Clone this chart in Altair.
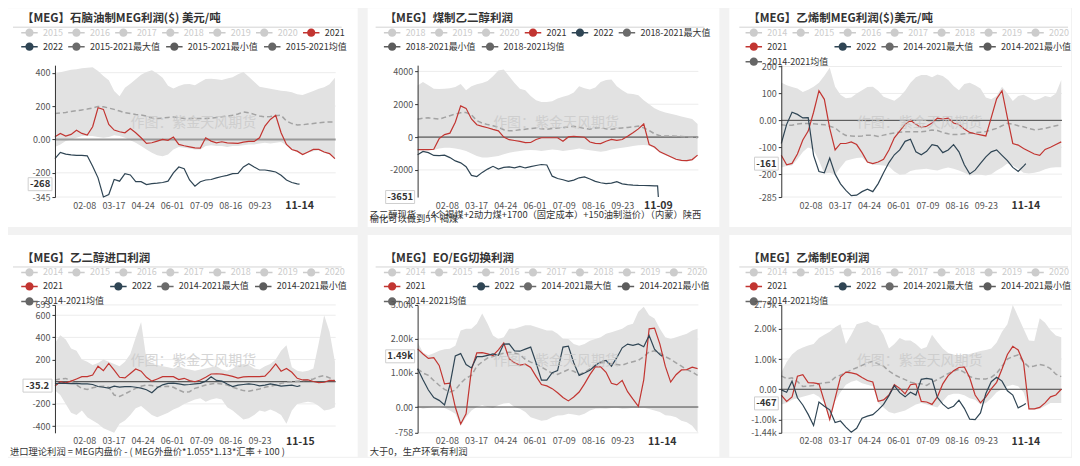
import altair as alt
import pandas as pd

FONT = "Noto Sans CJK SC"

# ---------------- shared categories ----------------
WEEK_DAYS = [0, 7, 14, 21, 28, 35, 42, 49, 56, 63, 70, 77, 84, 91, 98, 105, 112, 119, 126, 133,
             140, 147, 154, 161, 168, 175, 182, 189, 196, 203, 210, 217, 224, 231, 238, 245, 252,
             259, 266, 273, 280, 287, 294, 301, 308, 315, 322, 329, 336, 343, 350, 357, 364]
D22_STD = [0, 7, 14, 21, 28, 35, 42, 49, 56, 63, 70, 77, 84, 91, 98, 105, 112, 119, 126, 133,
           140, 147, 154, 161, 168, 175, 182, 189, 196, 203, 210, 217, 224, 231, 238, 245, 252,
           259, 266, 273, 280, 287, 294, 301, 308, 315, 318]
D22_P2 = [0, 7, 14, 21, 28, 35, 42, 49, 56, 63, 70, 77, 84, 91, 98, 105, 112, 119, 126, 133,
          140, 147, 154, 161, 168, 175, 182, 189, 196, 203, 210, 217, 224, 231, 238, 245, 252,
          259, 266, 273, 280, 287, 294, 301, 308, 312, 313]
D22_P4 = [0, 7, 14, 21, 28, 35, 42, 49, 56, 63, 70, 77, 84, 91, 98, 105, 112, 119, 126, 133,
          140, 147, 154, 161, 168, 175, 182, 189, 196, 203, 210, 217, 224, 231, 238, 245, 252,
          259, 266, 273, 280, 287, 294, 301, 308, 315, 319]
X_TICK_DAYS = [38, 76, 114, 152, 190, 228, 266]
X_TICK_LABELS = ["02-08", "03-17", "04-24", "06-01", "07-09", "08-16", "09-23"]
YEARS_OFF = ["2014", "2015", "2016", "2017", "2018", "2019", "2020"]

# ---------------- panel 1 ----------------
P1_TITLE = "【MEG】石脑油制MEG利润($) 美元/吨"
P1_LEG_A = ["2015", "2016", "2017", "2018", "2019", "2020", "2021"]
P1_LEG_B = ["2022", "2015-2021最大值", "2015-2021最小值", "2015-2021均值"]
P1_YTICKS = [400, 200, 0, -200, -345]
P1_YLABELS = ["400", "200", "0.00", "-200", "-345"]
P1_YDOMAIN = [-345, 445]
P1_MAX = [394, 402, 410, 418, 420, 426, 430, 432, 410, 380, 355, 290, 258, 310, 334, 360, 388, 404,
          414, 395, 370, 322, 305, 320, 330, 332, 324, 344, 362, 364, 360, 356, 365, 373, 390, 404,
          375, 345, 316, 310, 304, 298, 292, 288, 283, 270, 266, 278, 290, 303, 312, 330, 370]
P1_MIN = [-45, -30, -10, 0, 10, 20, 20, 20, 15, 10, 15, 25, 20, 10, -5, -20, -40, -60, -80, -95,
          -100, -90, -60, -45, -50, -55, -60, -60, -40, -35, -40, -40, -45, -40, -40, -35, -30, -30,
          -25, -20, -25, -20, -15, -35, -65, -75, -95, -80, -70, -65, -80, -90, -120]
P1_MEAN = [155, 158, 162, 167, 172, 177, 182, 188, 198, 196, 188, 180, 170, 160, 155, 150, 146, 140,
           128, 126, 128, 132, 134, 130, 126, 125, 125, 125, 125, 128, 132, 136, 140, 145, 152, 165,
           160, 150, 140, 135, 138, 142, 145, 110, 95, 87, 88, 92, 96, 100, 103, 105, 105]
P1_2021 = [16, 36, 20, 30, 55, 36, 26, 76, 190, 180, 90, 56, 46, 40, 66, 40, 10, -24, -20, -10, 0,
           -5, 14, -30, -38, -44, -50, -52, 10, -10, -20, -14, -20, -22, -24, -16, -12, -12, 10, 80,
           120, 145, 40, -30, -60, -70, -90, -75, -60, -60, -75, -85, -115]
P1_2022 = [-115, -78, -88, -92, -95, -95, -98, -160, -230, -345, -330, -240, -250, -205, -213, -253,
           -253, -270, -265, -262, -258, -250, -200, -165, -175, -243, -280, -253, -243, -240, -230,
           -222, -215, -205, -203, -165, -145, -165, -183, -183, -188, -195, -215, -243, -258, -266,
           -268]
P1_NOW = "11-14"
P1_NOW_DAY = 318
P1_CUR = "-268"

# ---------------- panel 2 ----------------
P2_TITLE = "【MEG】煤制乙二醇利润"
P2_LEG_A = ["2018", "2019", "2020", "2021", "2022", "2018-2021最大值"]
P2_LEG_B = ["2018-2021最小值", "2018-2021均值"]
P2_YTICKS = [4000, 2000, 0, -2000]
P2_YLABELS = ["4000", "2000", "0", "-2000"]
P2_YDOMAIN = [-3651, 4380]
P2_MAX = [3140, 3350, 3150, 2950, 2930, 2950, 2980, 3050, 3240, 2850, 3100, 3220, 3300, 3420, 3700,
          4050, 4120, 3700, 3300, 2950, 2850, 2500, 2250, 2130, 2130, 2180, 2350, 2450, 2550, 2720,
          3100, 2980, 2900, 3020, 3350, 3480, 3500, 3100, 2850, 2650, 2620, 2550, 2250, 2000, 1750,
          1600, 1500, 1420, 1340, 1250, 1170, 1100, 800]
P2_MIN = [-800, -800, -800, -780, -700, -650, -650, -700, -750, -850, -1000, -1150, -1250, -1250,
          -1200, -1150, -1050, -950, -900, -850, -800, -780, -800, -850, -800, -750, -780, -850,
          -800, -750, -700, -750, -800, -850, -900, -850, -750, -700, -650, -600, -550, -500, -480,
          -520, -700, -950, -1100, -1250, -1400, -1470, -1480, -1420, -1150]
P2_MEAN = [1090, 1150, 1170, 1130, 1090, 1200, 1300, 1400, 1480, 1500, 1350, 1000, 850, 760, 690,
           600, 450, 380, 400, 440, 480, 520, 560, 500, 480, 520, 560, 575, 620, 660, 600, 520, 480,
           560, 570, 500, 480, 520, 560, 590, 620, 670, 560, 400, 200, 80, 60, 60, 55, 40, 10, -10,
           -40]
P2_2021 = [-760, -760, -760, -740, -95, 150, 240, 900, 1900, 1750, 1100, 750, 650, 570, 470, 380, 0,
           -160, -210, -260, -340, -330, -150, -40, -40, -40, -40, -250, 10, 50, 20, -10, -300,
           -380, -400, -250, -145, -200, -150, 50, 265, 500, 800, -450, -600, -900, -1050, -1200,
           -1350, -1420, -1430, -1370, -1100]
P2_2022 = [-1070, -870, -950, -1120, -1130, -1100, -1250, -1450, -1570, -1800, -2330, -2400, -2150,
           -1950, -1780, -1950, -1850, -1820, -1870, -1780, -1880, -1800, -1730, -1670, -1700, -2380,
           -2520, -2600, -2700, -2620, -2480, -2430, -2550, -2700, -2780, -2830, -2800, -2720, -2850,
           -2890, -2920, -2940, -2950, -2960, -2970, -2970, -3651]
P2_NOW = "11-09"
P2_NOW_DAY = 313
P2_CUR = "-3651"
P2_NOTES = ["乙二醇现货 -（4个褐煤+2动力煤+1700（固定成本）+150油制溢价）（内蒙）陕西",
            "榆化可以做到5个褐煤"]

# ---------------- panel 3 ----------------
P3_TITLE = "【MEG】乙烯制MEG利润($)美元/吨"
P3_LEG_A = YEARS_OFF
P3_LEG_B = ["2021", "2022", "2014-2021最大值", "2014-2021最小值", "2014-2021均值"]
P3_YTICKS = [200, 100, 0, -100, -200, -285]
P3_YLABELS = ["200", "100", "0.00", "-100", "-200", "-285"]
P3_YDOMAIN = [-285, 205]
P3_MAX = [141, 130, 124, 118, 105, 114, 125, 140, 166, 195, 125, 95, 82, 85, 100, 112, 124, 125, 110,
          88, 80, 73, 88, 110, 140, 160, 168, 168, 160, 170, 165, 150, 128, 112, 135, 140, 130, 118,
          85, 78, 90, 125, 100, 72, 90, 95, 85, 75, 80, 90, 86, 100, 150]
P3_MIN = [-175, -170, -168, -145, -118, -100, -110, -150, -198, -195, -202, -175, -150, -145, -140,
          -138, -158, -165, -166, -168, -172, -190, -202, -200, -188, -184, -182, -180, -184, -186,
          -180, -175, -180, -186, -195, -205, -202, -202, -205, -200, -186, -175, -160, -168, -180,
          -195, -198, -195, -190, -182, -176, -174, -174]
P3_MEAN = [-16, -19, -18, -14, -11, -12, -13, -15, -16, -22, -28, -45, -56, -58, -60, -58, -55, -56,
           -60, -55, -50, -47, -44, -42, -42, -42, -42, -40, -36, -38, -45, -50, -53, -52, -50, -48,
           -46, -44, -42, -36, -30, -20, -11, -14, -20, -24, -30, -35, -33, -30, -25, -20, -16]
P3_2021 = [-130, -165, -160, -125, -73, -40, 30, 110, 78, -30, -110, -86, -86, -80, -90, -120, -155,
           -161, -155, -145, -110, -65, -40, -15, 0, -15, -27, -22, -10, 8, 5, 8, -10, -16, -32, -45,
           -50, -54, -58, 10, 80, 110, 10, -86, -92, -105, -115, -125, -130, -108, -100, -90, -80]
P3_2022 = [-86, -15, 30, 22, 9, 10, -130, -190, -195, -140, -200, -236, -260, -280, -278, -265, -256,
           -265, -235, -195, -157, -128, -110, -78, -70, -117, -128, -115, -90, -95, -120, -110, -90,
           -117, -165, -199, -185, -160, -136, -117, -110, -130, -150, -175, -190, -170, -161]
P3_NOW = "11-14"
P3_NOW_DAY = 318
P3_CUR = "-161"

# ---------------- panel 4 ----------------
P4_TITLE = "【MEG】乙二醇进口利润"
P4_LEG_A = YEARS_OFF
P4_LEG_B = ["2021", "2022", "2014-2021最大值", "2014-2021最小值", "2014-2021均值"]
P4_YTICKS = [693, 600, 400, 200, -200, -400]
P4_YLABELS = ["693", "600", "400", "200", "-200", "-400"]
P4_YDOMAIN = [-461, 693]
P4_MAX = [350, 420, 380, 300, 280, 200, 180, 150, 170, 200, 180, 160, 140, 180, 250, 400, 540, 200,
          160, 150, 140, 130, 120, 140, 120, 110, 100, 110, 120, 130, 140, 110, 100, 120, 150, 160,
          150, 120, 110, 140, 160, 200, 280, 330, 130, 100, 90, 100, 120, 350, 600, 450, 180]
P4_MIN = [-80, -120, -200, -280, -300, -260, -320, -350, -380, -420, -440, -460, -380, -350, -300,
          -240, -220, -260, -300, -320, -300, -280, -250, -230, -200, -180, -160, -150, -180, -160,
          -150, -160, -230, -260, -300, -340, -330, -300, -260, -270, -250, -270, -300, -380, -260,
          -200, -190, -180, -190, -220, -260, -250, -230]
P4_MEAN = [15, 25, 30, 10, -30, -60, -70, -55, -45, -40, -50, -120, -133, -110, -85, -60, -40, -30,
           -35, -45, -45, -40, -50, -75, -95, -90, -60, -45, -30, -20, -15, -20, -30, -50, -65, -80,
           -85, -75, -65, -50, -40, -30, -15, -5, 0, 5, 10, 15, 25, 45, 55, 35, 10]
P4_2021 = [-40, 0, -10, 5, 25, 46, 46, 60, 140, 100, 165, 105, 40, 35, 75, 115, 95, 40, 5, 25, 46,
           46, 46, 20, 31, 10, 0, 16, 40, 70, 72, 68, 60, 48, 33, 44, 46, 46, 46, 50, 100, 160, 95,
           120, 85, 31, 16, 16, 2, -8, -5, 12, 10]
P4_2022 = [-20, -12, -15, -18, -15, -20, -20, -25, -43, -50, -58, -40, -48, -45, -43, -50, -58, -72,
           -100, -55, -28, -15, -13, -20, -28, -25, -20, -15, 5, 45, 12, 5, -20, -43, -30, -25, -20,
           -25, -38, -30, -20, -28, -40, -35, -30, -43, -35.2]
P4_NOW = "11-15"
P4_NOW_DAY = 319
P4_CUR = "-35.2"
P4_NOTES = ["进口理论利润 = MEG内盘价 - ( MEG外盘价*1.055*1.13*汇率 + 100 )"]

# ---------------- panel 5 ----------------
P5_TITLE = "【MEG】EO/EG切换利润"
P5_LEG_A = YEARS_OFF
P5_LEG_B = ["2021", "2022", "2014-2021最大值", "2014-2021最小值", "2014-2021均值"]
P5_YTICKS = [3000, 2000, 1000, 0, -758]
P5_YLABELS = ["3.00k", "2.00k", "1.00k", "0.00", "-758"]
P5_YDOMAIN = [-758, 3000]
P5_MAX = [1900, 1600, 1520, 1580, 1650, 1700, 1710, 1800, 2250, 2300, 2300, 2450, 2750, 2450, 2100,
          2000, 2050, 2300, 2300, 2350, 2400, 2400, 2350, 2300, 2250, 2250, 2150, 2004, 2000, 1850,
          1800, 1850, 1950, 2000, 2050, 2150, 2200, 2250, 2300, 2400, 2450, 2800, 2950, 2700, 2600,
          2300, 2050, 2000, 2050, 2100, 2150, 2250, 2300]
P5_MIN = [0, -50, -20, 0, 0, -30, -100, -200, -550, -300, -100, 0, 50, 0, -30, 50, 100, 120, 0, -50,
          -150, -300, -350, -400, -380, -300, -250, -240, -200, -220, -250, -200, -100, -50, -40,
          -50, -30, -20, -50, -40, -20, -30, -20, -60, -100, -150, -240, -260, -300, -400, -450,
          -550, -750]
P5_MEAN = [1124, 1000, 930, 780, 640, 520, 440, 500, 700, 850, 929, 1200, 1330, 1440, 1480, 1540,
           1580, 1610, 1590, 1540, 1400, 1320, 1260, 1180, 1080, 990, 960, 1030, 1100, 1050, 960,
           1020, 1120, 1220, 1300, 1300, 1270, 1250, 1230, 1290, 1330, 1370, 1480, 1620, 1650, 1580,
           1480, 1400, 1300, 1200, 1100, 1030, 930]
P5_2021 = [1710, 1560, 1430, 1450, 1222, 680, 700, 0, -500, -200, 1100, 1590, 1600, 1560, 1515, 1680,
           1880, 1417, 1300, 1230, 1260, 1160, 900, 660, 620, 540, 420, 280, 180, 293, 440, 680, 950,
           1180, 1180, 1020, 700, 650, 782, 450, 230, 20, 800, 2297, 2320, 1850, 1200, 733, 950,
           1090, 1100, 1173, 1130]
P5_2022 = [1124, 800, 500, 280, 196, 60, 650, 1500, 1570, 1250, 1150, 1480, 1480, 1520, 1560, 1520,
           1850, 1857, 1650, 1640, 1700, 1760, 1300, 790, 790, 1010, 1070, 1760, 1790, 1300, 930, 1000,
           1080, 1220, 1330, 1368, 1200, 1450, 1740, 1850, 1810, 1855, 1770, 2100, 1700, 1540, 1490]
P5_NOW = "11-14"
P5_NOW_DAY = 318
P5_CUR = "1.49k"
P5_NOTES = ["大于0，生产环氧有利润"]

# ---------------- panel 6 ----------------
P6_TITLE = "【MEG】乙烯制EO利润"
P6_LEG_A = YEARS_OFF
P6_LEG_B = ["2021", "2022", "2014-2021最大值", "2014-2021最小值", "2014-2021均值"]
P6_YTICKS = [2790, 2000, 1000, 0, -1000, -1440]
P6_YLABELS = ["2.79k", "2.00k", "1.00k", "0.00", "-1.00k", "-1.44k"]
P6_YDOMAIN = [-1440, 2790]
P6_MAX = [552, 900, 1150, 1300, 1380, 1450, 1500, 1700, 1800, 1900, 2050, 2150, 1500, 1800, 2150,
          2200, 2250, 2140, 2100, 1800, 1350, 1500, 1700, 1614, 1614, 1500, 1330, 1400, 1800, 1560,
          1350, 1200, 1150, 1100, 1120, 1170, 1220, 1270, 1296, 1350, 1550, 1900, 2150, 2790, 2400,
          2000, 1614, 1600, 2350, 2200, 1950, 1780, 1720]
P6_MIN = [-500, -450, -350, -300, -250, -200, -150, -250, -450, -1050, -400, -100, 150, 250, 300,
          200, 150, 100, -450, -600, -750, -800, -750, -700, -600, -500, -450, -500, -550, -600,
          -400, -200, -150, -150, -200, -300, -350, -500, -450, -300, -100, 0, 100, 150, 100, -100,
          -680, -680, -650, -550, -450, -450, -450]
P6_MEAN = [446, 350, 380, 260, 90, 100, 127, 180, 210, 234, 390, 470, 552, 640, 712, 790, 871, 924,
           840, 765, 605, 480, 393, 320, 234, 190, 180, 127, 234, 320, 420, 520, 605, 658, 560, 420,
           360, 340, 340, 393, 530, 760, 1000, 1083, 1136, 900, 740, 770, 818, 780, 680, 500, 420]
P6_2021 = [-190, -400, -250, 430, 480, 220, 210, 180, -400, -1000, -300, 400, 570, 540, 500, 390, 290,
           240, -400, -350, -190, 150, 30, -150, 150, 180, -400, -420, -500, -250, 180, 450, 610, 720,
           740, 380, -190, -450, -250, 10, 230, 670, 1150, 1420, 1300, 880, -650, -650, -600, -450,
           -250, -190, 0]
P6_2022 = [-20, -100, 270, -280, -520, -830, -1200, -420, -560, -680, -1100, -1050, -1250, -1420,
           -1290, -960, -890, -840, -680, -500, -210, 120, -110, -250, -100, -191, 330, 360, 330,
           -270, -490, -640, -560, -360, -630, -990, -1000, -780, -140, 250, 400, 270, -50, -191,
           -616, -520, -467]
P6_NOW = "11-14"
P6_NOW_DAY = 318
P6_CUR = "-467"

# ---------------- styling ----------------
RED = "#c23531"
NAVY = "#2f4554"
OFF = "#cccccc"
BAND = "#e2e2e2"
BG = "#f2f2f2"
SYMBOL = ("M-1.1,-0.1H1.1V0.1H-1.1Z "
          "M-0.55,0A0.55,0.55,0,1,1,0.55,0A0.55,0.55,0,1,1,-0.55,0Z")
LABEL_EXPR = ("indexof(['2014','2015','2016','2017','2018','2019','2020'], datum.label) >= 0"
              " ? '#cccccc' : '#333333'")

COL_PADS = [(47, 22), (50, 21), (52, 9)]
ROW_PADS = [(57, 30, 132), (70, 24, 128)]
PLOT_W = 281


def item_color(name):
    if name == "2021":
        return RED
    if name == "2022":
        return NAVY
    if name.endswith("最大值"):
        return "#6b6b6b"
    if name.endswith("最小值"):
        return "#5c5c5c"
    if name.endswith("均值"):
        return "#666666"
    return OFF


def legend_layer(items, field, channel, lx, ly, cols):
    leg = alt.Legend(orient="none", legendX=lx, legendY=ly, title=None, direction="horizontal",
                     columns=cols, gridAlign="none", symbolType=SYMBOL, symbolSize=225,
                     symbolStrokeWidth=0, symbolOpacity=1, labelFont=FONT, labelFontSize=9,
                     labelColor={"expr": LABEL_EXPR}, labelOffset=6, columnPadding=5,
                     rowPadding=2, padding=0)
    sc = alt.Scale(domain=items, range=[item_color(i) for i in items])
    if channel == "fill":
        enc = {"fill": alt.Fill(f"{field}:N", scale=sc, legend=leg)}
    else:
        enc = {"color": alt.Color(f"{field}:N", scale=sc, legend=leg)}
    return (alt.Chart(pd.DataFrame({field: items}))
            .mark_point(filled=True)
            .encode(**enc)
            .transform_filter("false"))


def js_list(vals):
    return "[" + ",".join(repr(v) if isinstance(v, str) else str(v) for v in vals) + "]"


def panel(p, col, row):
    W = PLOT_W
    L, R = COL_PADS[col]
    T, B, H = ROW_PADS[row]
    xsc = alt.Scale(domain=[0, 365], nice=False, zero=False)
    ysc = alt.Scale(domain=p["ydomain"], nice=False, zero=False)
    one = pd.DataFrame({"k": [0]})
    wk = pd.DataFrame({"d": WEEK_DAYS, "hi": p["max"], "lo": p["min"],
                       "mean": p["mean"], "y21": p["y21"]})
    d22 = pd.DataFrame({"d": p["d22"], "y22": p["y22"]})

    x_expr = f"{js_list(X_TICK_LABELS)}[indexof({js_list(X_TICK_DAYS)}, datum.value)]"
    y_expr = f"{js_list(p['ylabels'])}[indexof({js_list(p['yticks'])}, datum.value)]"
    xaxis = alt.Axis(values=X_TICK_DAYS, labelExpr=x_expr, grid=False, domain=False, ticks=False,
                     labelColor="#555555", labelFontSize=9, labelPadding=4, title=None, zindex=1,
                     labelFont=FONT)
    yaxis = alt.Axis(values=p["yticks"], labelExpr=y_expr, grid=False, domainColor="#333333",
                     tickColor="#333333", tickSize=3, labelColor="#555555", labelFontSize=9,
                     labelPadding=2, title=None, zindex=1, labelFont=FONT)

    def X(f):
        return alt.X(f, scale=xsc, axis=xaxis)

    def Y(f):
        return alt.Y(f, scale=ysc, axis=yaxis)

    card = alt.Chart(one).mark_rect(fill="white").encode(
        x=alt.value(-L), x2=alt.value(W + R), y=alt.value(-T), y2=alt.value(H + B))
    grid = alt.Chart(pd.DataFrame({"v": [v for v in p["yticks"] if v != 0]})).mark_rule(
        color="#ececec", strokeWidth=1).encode(
        y=Y("v:Q"), x=alt.value(0), x2=alt.value(W))
    band = alt.Chart(wk).mark_area(color=BAND, interpolate="linear").encode(
        x=X("d:Q"), y=Y("hi:Q"), y2="lo:Q")
    zero = alt.Chart(pd.DataFrame({"v": [0]})).mark_rule(
        color=p["zero_color"], strokeWidth=p["zero_width"]).encode(
        y=Y("v:Q"), x=alt.value(0), x2=alt.value(W))
    mean = alt.Chart(wk).mark_line(color="#a3a3a3", strokeDash=[5, 3], strokeWidth=1.5).encode(
        x=X("d:Q"), y=Y("mean:Q"))
    l21 = alt.Chart(wk).mark_line(color=RED, strokeWidth=1.2).encode(
        x=X("d:Q"), y=Y("y21:Q"))
    l22 = alt.Chart(d22).mark_line(color=NAVY, strokeWidth=1.2).encode(
        x=X("d:Q"), y=Y("y22:Q"))
    wm = alt.Chart(one).mark_text(fontSize=14, color="#c8c8c8", opacity=0.75, font=FONT,
                                  align="center", baseline="middle").encode(
        x=alt.value(W / 2 - 2), y=alt.value(H / 2 - 8), text=alt.value("作图：紫金天风期货"))
    title = alt.Chart(one).mark_text(fontSize=11.5, fontWeight="bold", color="#333333", font=FONT,
                                     align="left", baseline="middle").encode(
        x=alt.value(-33), y=alt.value(-46), text=alt.value(p["title"]))
    sep = alt.Chart(one).mark_rule(color="#d4d4d4", strokeWidth=1).encode(
        x=alt.value(-42), x2=alt.value(W + 6), y=alt.value(-38))

    cur_val = p["y22"][-1]
    bw = 5.2 * len(p["cur"]) + 3
    cx = -(bw / 2 + 3)
    box_path = f"M{-bw/2},-6.5H{bw/2}V6.5H{-bw/2}Z"
    cur_df = pd.DataFrame({"v": [cur_val]})
    box = alt.Chart(cur_df).mark_point(shape=box_path, size=4, filled=True, fill="white",
                                       stroke="#cfcfcf", strokeWidth=1, opacity=1).encode(
        x=alt.value(cx), y=Y("v:Q"))
    box_txt = alt.Chart(cur_df).mark_text(fontSize=9.5, fontWeight="bold", color="#333333",
                                          font=FONT, align="center", baseline="middle").encode(
        x=alt.value(cx), y=Y("v:Q"), text=alt.value(p["cur"]))
    now = alt.Chart(pd.DataFrame({"d": [p["now_day"]]})).mark_text(
        fontSize=10.5, fontWeight="bold", color="#333333", font=FONT,
        align="center", baseline="middle").encode(
        x=X("d:Q"), y=alt.value(H + 9), text=alt.value(p["now"]))

    layers = [card, grid, band, zero, mean, l21, l22, wm, title, sep, box, box_txt, now]
    for i, note in enumerate(p["notes"]):
        ny = (H + 18 + 4 * i) if row == 0 else (H + 19)
        layers.append(alt.Chart(one).mark_text(fontSize=9.3, color="#333333", font=FONT,
                                               align="left", baseline="middle").encode(
            x=alt.value(-48 if col > 0 else -45), y=alt.value(ny), text=alt.value(note)))

    lx = -33 if col < 2 else -35
    layers.append(legend_layer(p["legA"], "la", "fill", lx, -40, len(p["legA"])))
    layers.append(legend_layer(p["legB"], "lb", "color", lx, -26, 4))
    return alt.layer(*layers).properties(width=W, height=H)


def cfg(title, legA, legB, yticks, ylabels, ydomain, mx, mn, me, y21, d22, y22, now, now_day,
        cur, notes, zero_color="#444444", zero_width=1):
    return dict(title=title, legA=legA, legB=legB, yticks=yticks, ylabels=ylabels,
                ydomain=ydomain, max=mx, min=mn, mean=me, y21=y21, d22=d22, y22=y22, now=now,
                now_day=now_day, cur=cur, notes=notes, zero_color=zero_color,
                zero_width=zero_width)


panels = [
    cfg(P1_TITLE, P1_LEG_A, P1_LEG_B, P1_YTICKS, P1_YLABELS, P1_YDOMAIN, P1_MAX, P1_MIN, P1_MEAN,
        P1_2021, D22_STD, P1_2022, P1_NOW, P1_NOW_DAY, P1_CUR, [], "#9a9a9a", 2),
    cfg(P2_TITLE, P2_LEG_A, P2_LEG_B, P2_YTICKS, P2_YLABELS, P2_YDOMAIN, P2_MAX, P2_MIN, P2_MEAN,
        P2_2021, D22_P2, P2_2022, P2_NOW, P2_NOW_DAY, P2_CUR, P2_NOTES, "#333333", 1),
    cfg(P3_TITLE, P3_LEG_A, P3_LEG_B, P3_YTICKS, P3_YLABELS, P3_YDOMAIN, P3_MAX, P3_MIN, P3_MEAN,
        P3_2021, D22_STD, P3_2022, P3_NOW, P3_NOW_DAY, P3_CUR, []),
    cfg(P4_TITLE, P4_LEG_A, P4_LEG_B, P4_YTICKS, P4_YLABELS, P4_YDOMAIN, P4_MAX, P4_MIN, P4_MEAN,
        P4_2021, D22_P4, P4_2022, P4_NOW, P4_NOW_DAY, P4_CUR, P4_NOTES, "#333333", 1),
    cfg(P5_TITLE, P5_LEG_A, P5_LEG_B, P5_YTICKS, P5_YLABELS, P5_YDOMAIN, P5_MAX, P5_MIN, P5_MEAN,
        P5_2021, D22_STD, P5_2022, P5_NOW, P5_NOW_DAY, P5_CUR, P5_NOTES),
    cfg(P6_TITLE, P6_LEG_A, P6_LEG_B, P6_YTICKS, P6_YLABELS, P6_YDOMAIN, P6_MAX, P6_MIN, P6_MEAN,
        P6_2021, D22_STD, P6_2022, P6_NOW, P6_NOW_DAY, P6_CUR, []),
]


def indep(c):
    return (c.resolve_scale(fill="independent", color="independent", x="independent",
                            y="independent")
            .resolve_legend(fill="independent", color="independent")
            .resolve_axis(x="independent", y="independent"))


row1 = indep(alt.hconcat(*[panel(panels[i], i, 0) for i in range(3)], spacing=10))
row2 = indep(alt.hconcat(*[panel(panels[3 + i], i, 1) for i in range(3)], spacing=10))

chart = (indep(alt.vconcat(row1, row2, spacing=8))
         .properties(background=BG, padding=0)
         .configure(font=FONT)
         .configure_view(stroke=None))

chart.save("out.html", embed_options={"renderer": "svg", "actions": False})
